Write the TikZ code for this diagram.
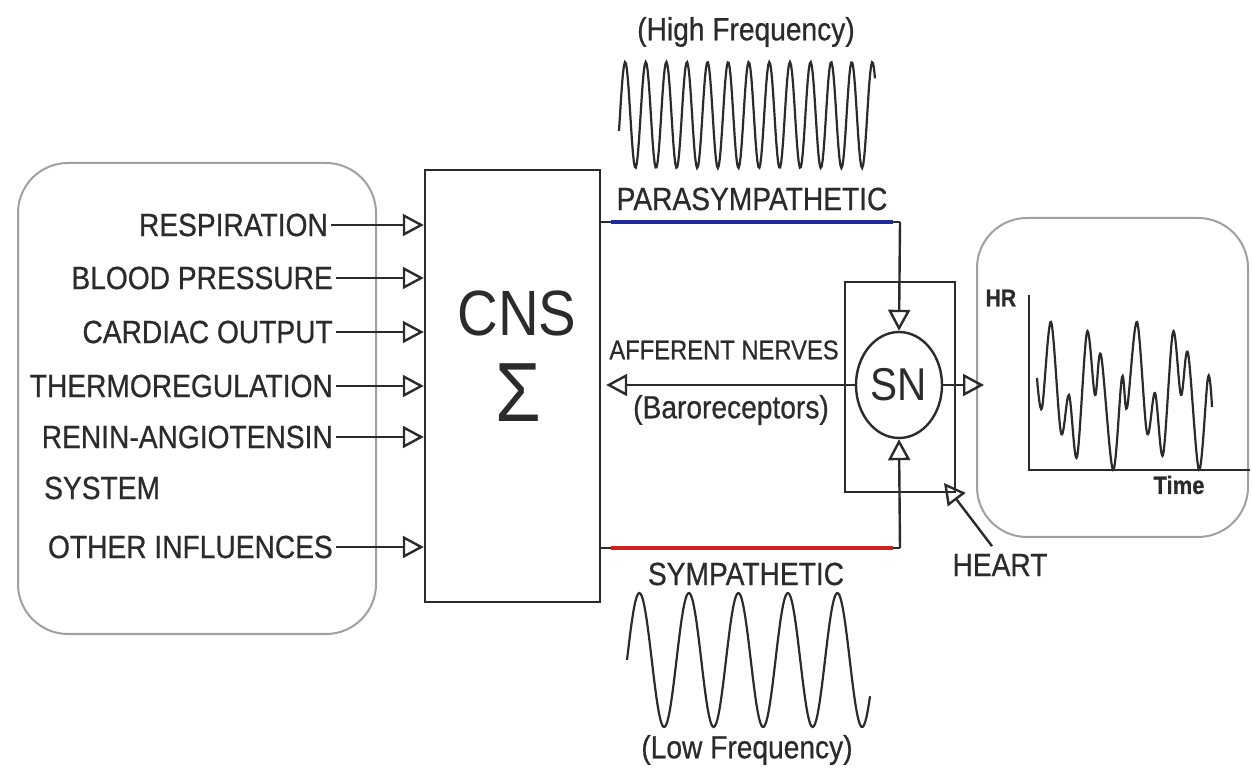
\documentclass[tikz,border=0pt]{standalone}
\usepackage{fontspec}
\setmainfont{Liberation Sans}[FakeStretch=0.88, FakeBold=0.6]
\newfontfamily\plainsans{Liberation Sans}[FakeStretch=0.88]
\usetikzlibrary{arrows.meta,shapes.geometric}
\definecolor{ink}{HTML}{2B2B2B}
\definecolor{frame}{HTML}{A0A0A0}
\definecolor{parablue}{HTML}{1F2A9C}
\definecolor{symred}{HTML}{D02020}

\begin{document}
\begin{tikzpicture}[x=0.5pt,y=0.5pt,>={Triangle[open,length=10.5pt,width=11pt]},
    line width=1.2pt, ink,
    every node/.style={font=\fontsize{16}{18}\selectfont, text=ink},
    inlbl/.style={anchor=east, inner sep=1pt},
    roundbox/.style={draw=frame, line width=1pt, rounded corners=25pt},
    wave/.style={draw=ink, line width=1.1pt}]
    \useasboundingbox (0,0) rectangle (1252,771);
    \fill[white] (0,0) rectangle (1252,771);

    % inputs
    \node[roundbox, minimum width=179pt, minimum height=235.5pt] (srcs) at (197,372.5) {};
    \node[draw, minimum width=87.5pt, minimum height=216pt] (cns) at (512.5,385) {};
    \node[font=\plainsans\fontsize{32}{36}\selectfont] (cnslbl) at (517,458) {CNS};
    \node[font=\plainsans\fontsize{42}{46}\selectfont] (sigma) at (518,378) {Σ};

    \node[inlbl] (resp) at (331,546) {RESPIRATION};
    \node[inlbl] (bp) at (336,493) {BLOOD PRESSURE};
    \node[inlbl] (co) at (336,439) {CARDIAC OUTPUT};
    \node[inlbl] (thermo) at (336,385) {THERMOREGULATION};
    \node[inlbl] (renin) at (336,334) {RENIN-ANGIOTENSIN};
    \node[anchor=west, inner sep=0pt] (sys) at (43,283) {SYSTEM};
    \node[inlbl] (other) at (336,224) {OTHER INFLUENCES};

    \draw[->] (resp.east) -- (resp.east -| cns.west);
    \draw[->] (bp.east) -- (bp.east -| cns.west);
    \draw[->] (co.east) -- (co.east -| cns.west);
    \draw[->] (thermo.east) -- (thermo.east -| cns.west);
    \draw[->] (renin.east) -- (renin.east -| cns.west);
    \draw[->] (other.east) -- (other.east -| cns.west);

    % sinus node
    \node[draw, minimum width=55pt, minimum height=105pt] (snbox) at (900,384) {};
    \node[draw, ellipse, minimum width=43pt, minimum height=53pt, inner sep=0pt,
          font=\plainsans\fontsize{23}{26}\selectfont] (sn) at (899,386) {SN};

    \coordinate (pk) at (900,549);
    \coordinate (sk) at (900,223);
    \draw (cns.east |- pk) -- (pk);
    \draw[->] (pk) -- (sn.north);
    \draw[parablue, line width=2.2pt] ([xshift=5pt]cns.east |- pk) -- ([xshift=-3.5pt]pk);
    \draw (cns.east |- sk) -- (sk);
    \draw[->] (sk) -- (sn.south);
    \draw[symred, line width=2.2pt] ([xshift=5pt]cns.east |- sk) -- ([xshift=-3.5pt]sk);

    \node (para) at (752,572) {PARASYMPATHETIC};
    \node (sym) at (746,197) {SYMPATHETIC};
    \node (hf) at (746,739) {(High Frequency)};
    \node (lf) at (747,21) {(Low Frequency)};
    \draw[wave] plot[domain=619:875, samples=260] (\x,{656+53*sin((\x-620)*17.476)});
    \draw[wave] plot[domain=627:870, samples=200] (\x,{111+67*sin((\x-627)*7.2727)});

    \draw[->, shorten >=2.5pt] (sn.west) -- (sn.west -| cns.east);
    \node[font=\fontsize{13.5}{16}\selectfont] (aff) at (724,421) {AFFERENT NERVES};
    \node (baro) at (731,361) {(Baroreceptors)};

    % heart rate
    \node[roundbox, minimum width=135.5pt, minimum height=159.5pt] (hrbox) at (1112.5,393.5) {};
    \draw[->] (sn.east) -- ([xshift=4pt]sn.east -| hrbox.west);
    \coordinate (org) at (1029,301);
    \draw (1029,476) -- (org) -- (1250,301);
    \node[font=\bfseries\fontsize{12}{14}\selectfont, anchor=east] (hr) at (1024,473) {HR};
    \node[font=\bfseries\fontsize{12.5}{14}\selectfont] (time) at (1179,286) {Time};
    \draw[line width=1.1pt] plot[smooth, tension=0.55] coordinates {(1037,393) (1042,363)
        (1051,449) (1061,338) (1069,376) (1077,314) (1087,439) (1095,376) (1101,416)
        (1113,301) (1122,394) (1127,363) (1137,449) (1147,338) (1155,378) (1163,316)
        (1173,439) (1181,376) (1188,418) (1199,301) (1208,394) (1212,364)};

    \node (heart) at (1000,206) {HEART};
    \coordinate (hk) at (944,288);
    \draw[->] ([xshift=-4pt]heart.north) -- (hk);
\end{tikzpicture}
\end{document}
